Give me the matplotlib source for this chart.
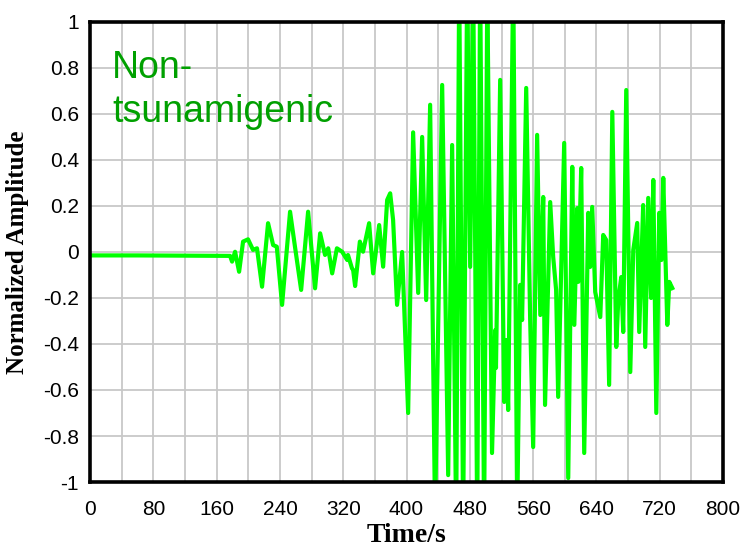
import matplotlib
matplotlib.use("Agg")
import matplotlib.pyplot as plt
import numpy as np

# waveform (time in s, normalized amplitude)
t_vals = [0, 60, 120, 177, 179.5, 183.3, 188.4, 193.4, 199.7, 206, 211, 217.4, 225, 231.4,
          236, 242.7, 252.8, 259, 266.8, 275.6, 284.4, 290.8, 297, 301, 306, 312, 318.6,
          325, 326, 331, 332.5, 335, 341, 345, 352.7, 357.8, 365.4, 370.4, 375.5, 379.3,
          383, 388, 394.4, 402, 408.3, 414.7, 419.7, 424.8, 429.8, 436, 445, 452.6, 457.6,
          462.7, 466.5, 471.5, 476.6, 480.4, 484.2, 489.3, 493, 498, 502, 508, 512, 513,
          518.3, 523.4, 526, 528.4, 534.8, 539.8, 543.6, 546, 551.2, 556.2, 560, 565, 569,
          572.7, 575, 581.5, 585.3, 589, 591.6, 599.2, 604.3, 609.4, 612, 615.7, 617, 620.7,
          624.5, 629.6, 632, 634.6, 638.4, 644.8, 648.5, 652.3, 656, 660, 665, 667.5, 671.3,
          673.8, 677.6, 682.7, 686.5, 691.5, 694, 699, 701.6, 705.4, 709, 711.8, 715.6,
          719.3, 722, 724.4, 729.5, 732, 735.8]
amp_vals = [-0.015, -0.015, -0.016, -0.017, -0.042, 0.001, -0.086, 0.045, 0.055, 0.009, 0.016,
            -0.151, 0.125, 0.03, 0.023, -0.23, 0.175, 0.023, -0.165, 0.175, -0.158, 0.081,
            -0.013, 0.016, -0.093, 0.016, 0.001, -0.035, -0.013, -0.071, -0.078, -0.148, 0.045,
            0.001, 0.125, -0.093, 0.117, -0.064, 0.226, 0.255, 0.139, -0.23, 0.0, -0.70, 0.52,
            -0.178, 0.50, -0.209, 0.64, -1.15, 0.726, -0.97, 0.465, -1.2, 1.2, -1.2, 1.2,
            -0.065, 1.2, -1.2, 1.2, -1.2, 1.15, -0.874, -0.34, -0.504, 0.748, -0.652, -0.383,
            -0.687, 1.2, -1.15, -0.143, -0.296, 0.713, -0.296, -0.848, 0.509, -0.274, 0.239,
            -0.665, 0.217, -0.022, -0.165, -0.63, 0.474, -0.983, 0.37, -0.317, 0.191, -0.13,
            0.365, -0.874, 0.17, -0.065, 0.196, -0.174, -0.283, 0.074, 0.052, -0.578, 0.609,
            -0.413, -0.209, -0.109, -0.348, 0.704, -0.522, 0.009, 0.126, -0.348, 0.204, -0.413,
            0.235, -0.2, 0.313, -0.70, 0.17, -0.035, 0.322, -0.317, -0.13, -0.157]

xticks = [0, 80, 160, 240, 320, 400, 480, 560, 640, 720, 800]
yticks = [1, 0.8, 0.6, 0.4, 0.2, 0, -0.2, -0.4, -0.6, -0.8, -1]
ytick_labels = ["1", "0.8", "0.6", "0.4", "0.2", "0", "-0.2", "-0.4", "-0.6", "-0.8", "-1"]

fig = plt.figure(figsize=(7.47, 5.55), dpi=100)
ax = fig.add_axes([0.1205, 0.1315, 0.8475, 0.829])

ax.plot(t_vals, amp_vals, color="#00ff00", lw=3, solid_joinstyle="round", zorder=3)

ax.set_xlim(0, 800)
ax.set_ylim(-1, 1)
ax.set_xticks(xticks)
ax.set_xticks(np.arange(40, 800, 80), minor=True)
ax.set_yticks(yticks)
ax.set_yticklabels(ytick_labels)
ax.set_xticklabels([str(v) for v in xticks])

ax.grid(which="both", color="#c8c8c8", lw=1.3, zorder=0)
ax.tick_params(which="both", length=0, labelsize=15)
ax.tick_params(axis="x", pad=13)
ax.tick_params(axis="y", pad=8)
for lab in ax.get_xticklabels() + ax.get_yticklabels():
    lab.set_fontfamily("Liberation Sans")
for s in ax.spines.values():
    s.set_linewidth(2.6)
    s.set_zorder(4)

ax.set_xlabel("Time/s", fontfamily="Liberation Serif", fontweight="bold", fontsize=20, labelpad=3)
ax.set_ylabel("Normalized Amplitude", fontfamily="Liberation Serif", fontweight="bold", fontsize=18, labelpad=10)

ax.text(27, 0.757, "Non-", color="#00a000", fontsize=27, fontfamily="Liberation Sans", va="baseline")
ax.text(28, 0.565, "tsunamigenic", color="#00a000", fontsize=27, fontfamily="Liberation Sans", va="baseline")

plt.savefig("out.png", dpi=100)
